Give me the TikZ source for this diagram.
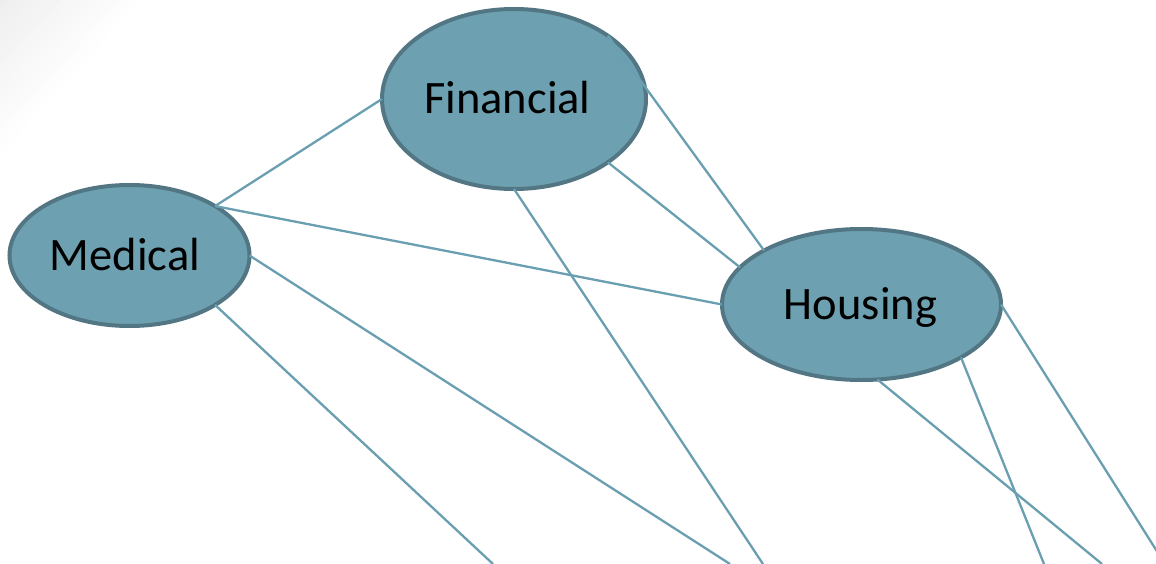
\documentclass[tikz,border=0pt]{standalone}
\usepackage{fontspec}
\setmainfont{Carlito}
\definecolor{nodefill}{HTML}{6DA1B1}
\definecolor{nodeborder}{HTML}{527683}
\definecolor{linkcol}{HTML}{6A9FB1}
\tikzset{
  topic/.style={ellipse, draw=nodeborder, fill=nodefill, line width=4pt,
    inner sep=0pt, outer sep=0pt, text height=30pt, text depth=0pt,
    font=\fontsize{46.5}{56}\selectfont, text=black},
  link/.style={draw=linkcol, line width=2.3pt},
}
\usetikzlibrary{shapes.geometric}
\begin{document}
\begin{tikzpicture}[x=1pt,y=-1pt]
\useasboundingbox (0,0) rectangle (1156,564);
\clip (0,0) rectangle (1156,564);
\fill[white] (0,0) rectangle (1156,564);
% soft grey corner
\foreach \d in {150,140,...,10}{
  \pgfmathsetmacro{\k}{6.5*(150-\d)/140}
  \fill[black!\k] (0,0) -- (\d,0) -- (0,\d*1.1) -- cycle;
}
% nodes
\node[topic, minimum width=264pt, minimum height=180pt] (fin) at (514,99) {Financial\kern13pt};
\node[topic, minimum width=240pt, minimum height=141pt] (med) at (129.5,255.5) {Medical\kern9pt};
\node[topic, minimum width=279pt, minimum height=151pt] (hou) at (861.5,304.5) {Housing\kern2pt};
% free ends
\coordinate (e1) at (493,564);
\coordinate (e2) at (730,564);
\coordinate (e3) at (763,564);
\coordinate (e4) at (1102,564);
\coordinate (e5) at (1044,564);
\coordinate (e6) at (1165,564);
% connectors
\draw[link] (med.30.4) -- (fin.180);
\draw[link] (med.30.4) -- (hou.180);
\draw[link] (med.0) -- (e2);
\draw[link] (med.-30.4) -- (e1);
\draw[link] (fin.34.3) -- (hou.151.6);
\draw[link] (fin.-34.3) -- (hou.163.2);
\draw[link] (fin.-90) -- (e3);
\draw[link] (hou.-78.5) -- (e4);
\draw[link] (hou.-28.4) -- (e5);
\draw[link] (hou.0) -- (e6);
\end{tikzpicture}
\end{document}
